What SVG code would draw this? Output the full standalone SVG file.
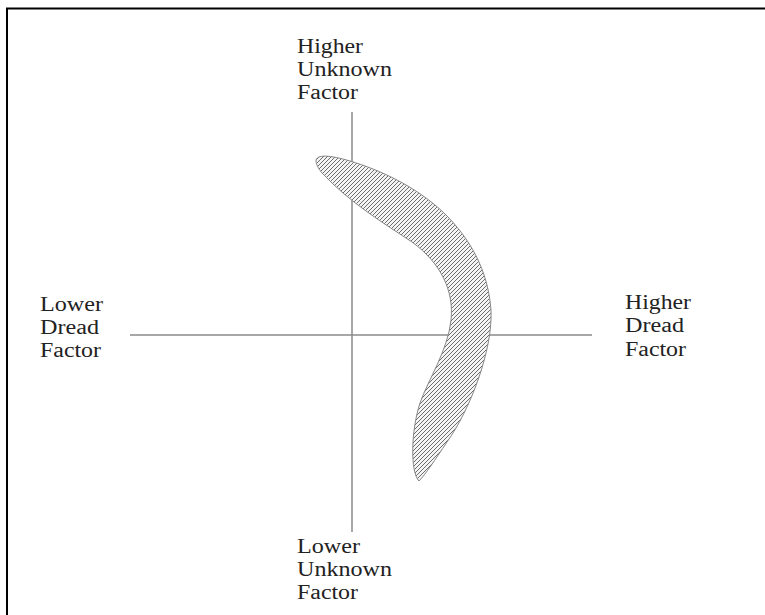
<svg xmlns="http://www.w3.org/2000/svg" width="765" height="615" viewBox="0 0 765 615">
<style>
.lbl{font-family:"Liberation Serif","Times New Roman",serif;font-size:20px;fill:#222}
.axis{stroke:#8a8a8a;stroke-width:1.5;fill:none}
.frame{stroke:#000;stroke-width:2;fill:none}
</style>
<defs>
<pattern id="hatch" patternUnits="userSpaceOnUse" width="4" height="4">
<rect width="4" height="4" fill="#f4f4f4"/>
<path d="M-1,1 l2,-2 M0,4 l4,-4 M3,5 l2,-2" stroke="#666" stroke-width="0.95"/>
</pattern>
</defs>
<rect width="765" height="615" fill="#fff"/>
<path class="frame" d="M7,615 V8.5 H765"/>
<g id="connectors">
<line class="axis" x1="352" y1="112" x2="352" y2="532"/>
<line class="axis" x1="130" y1="335" x2="592" y2="335"/>
</g>
<g id="region">
<path d="M316,161 C316,154 330,155 350,161 C380,170 415,186 443,212 C470,238 488,270 491,310 C493,350 470,410 447,442 C435,460 425,475 419,481 C410,472 411,430 420,403 C428,380 448,350 451,320 C454,292 442,264 412,242 C385,224 350,203 322,173 C318,168 316,164 316,161 Z" fill="url(#hatch)" stroke="#888" stroke-width="1"/>
</g>
<g id="top-label">
<text class="lbl" x="297" y="53" textLength="66" lengthAdjust="spacingAndGlyphs">Higher</text>
<text class="lbl" x="297" y="76" textLength="95" lengthAdjust="spacingAndGlyphs">Unknown</text>
<text class="lbl" x="297" y="99" textLength="61" lengthAdjust="spacingAndGlyphs">Factor</text>
</g>
<g id="left-label">
<text class="lbl" x="40" y="311" textLength="63" lengthAdjust="spacingAndGlyphs">Lower</text>
<text class="lbl" x="40" y="334" textLength="59" lengthAdjust="spacingAndGlyphs">Dread</text>
<text class="lbl" x="40" y="357" textLength="61" lengthAdjust="spacingAndGlyphs">Factor</text>
</g>
<g id="right-label">
<text class="lbl" x="625" y="309" textLength="66" lengthAdjust="spacingAndGlyphs">Higher</text>
<text class="lbl" x="625" y="332" textLength="59" lengthAdjust="spacingAndGlyphs">Dread</text>
<text class="lbl" x="625" y="356" textLength="61" lengthAdjust="spacingAndGlyphs">Factor</text>
</g>
<g id="bottom-label">
<text class="lbl" x="297" y="553" textLength="63" lengthAdjust="spacingAndGlyphs">Lower</text>
<text class="lbl" x="297" y="576" textLength="95" lengthAdjust="spacingAndGlyphs">Unknown</text>
<text class="lbl" x="297" y="599" textLength="61" lengthAdjust="spacingAndGlyphs">Factor</text>
</g>
</svg>
